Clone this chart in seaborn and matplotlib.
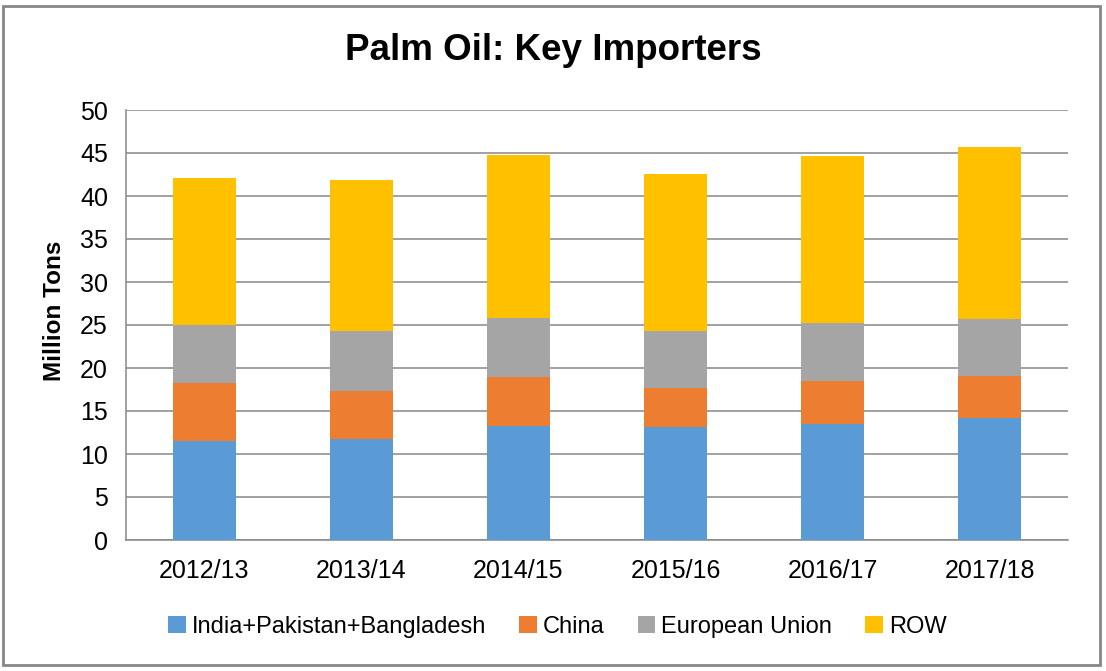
import numpy as np
import pandas as pd
import matplotlib
matplotlib.use('Agg')
import matplotlib.pyplot as plt
from matplotlib.patches import Rectangle, Patch
import seaborn as sns

years = ['2012/13', '2013/14', '2014/15', '2015/16', '2016/17', '2017/18']
india_pak_bang = [11.55, 11.7, 13.2, 13.1, 13.45, 14.15]
china = [6.65, 5.6, 5.7, 4.6, 5.0, 4.95]
eu = [6.8, 7.0, 6.9, 6.6, 6.75, 6.65]
row = [17.1, 17.6, 19.0, 18.3, 19.5, 19.95]

series_names = ['India+Pakistan+Bangladesh', 'China', 'European Union', 'ROW']
series_values = [india_pak_bang, china, eu, row]
colors = ['#5B9BD5', '#ED7D31', '#A5A5A5', '#FFC000']

sns.set_style('white')
plt.rcParams['font.family'] = ['Liberation Sans', 'DejaVu Sans']
plt.rcParams['text.color'] = 'black'
plt.rcParams['axes.labelcolor'] = 'black'
plt.rcParams['xtick.color'] = 'black'
plt.rcParams['ytick.color'] = 'black'

fig = plt.figure(figsize=(11.06, 6.71), dpi=100)
ax = fig.add_axes([126 / 1106, 1 - 540 / 671, (1068 - 126) / 1106, (540 - 110) / 671])

# stacked bars, one seaborn call per series
bottom = np.zeros(len(years))
for name, vals, col in zip(series_names, series_values, colors):
    df = pd.DataFrame({'year': years, 'value': vals})
    sns.barplot(data=df, x='year', y='value', color=col, width=0.4,
                bottom=bottom, ax=ax, saturation=1, linewidth=0, zorder=3)
    bottom = bottom + np.array(vals)

ax.set_ylim(0, 50)
ax.set_xlim(-0.5, len(years) - 0.5)
ax.set_yticks(np.arange(0, 51, 5))
ax.yaxis.grid(True, color='#878787', linewidth=1.1, zorder=0)
ax.set_axisbelow(True)
for s in ['top', 'right']:
    ax.spines[s].set_visible(False)
for s in ['left', 'bottom']:
    ax.spines[s].set_color('#878787')
    ax.spines[s].set_linewidth(1.1)

ax.tick_params(axis='y', which='major', length=8, color='#878787', width=1.1,
               labelsize=18, pad=5, labelcolor='black')
ax.tick_params(axis='x', which='major', length=0, labelsize=18, pad=14, labelcolor='black')
ax.set_xticks(np.arange(-0.5, len(years), 1), minor=True)
ax.tick_params(axis='x', which='minor', length=8, color='#878787', width=1.1)

ax.set_xlabel('')
ax.set_ylabel('Million Tons', fontsize=17.5, fontweight='bold', color='black')
ax.yaxis.set_label_coords(-0.064, 0.533)

fig.text(0.5, 1 - 50 / 671, 'Palm Oil: Key Importers', ha='center', va='center',
         fontsize=26.5, fontweight='bold', color='black')

handles = [Patch(facecolor=c, edgecolor='none') for c in colors]
fig.legend(handles, series_names, loc='center', bbox_to_anchor=(0.504, 1 - 627 / 671),
           ncol=4, frameon=False, fontsize=17, handlelength=0.75, handleheight=0.75,
           handletextpad=0.25, columnspacing=1.4, labelcolor='black')

fig.add_artist(Rectangle((3 / 1106, 6 / 671), 1097 / 1106, 659 / 671,
                         transform=fig.transFigure, fill=False,
                         edgecolor='#878787', linewidth=2))

fig.savefig('out.png', dpi=100)
